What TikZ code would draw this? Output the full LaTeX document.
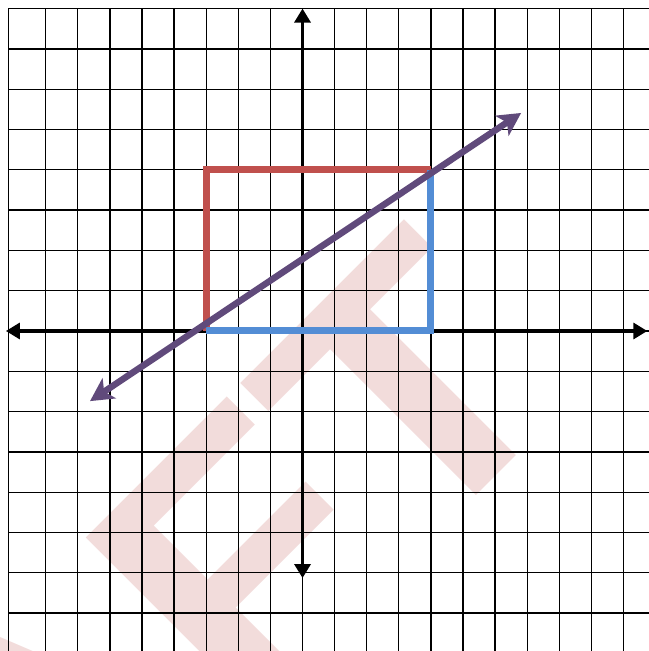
\documentclass[tikz,border=0pt]{standalone}
\usepackage{fontspec}
\newfontfamily\markfont{Liberation Sans}
\usetikzlibrary{arrows.meta}
\definecolor{markpink}{RGB}{242,220,219}
\definecolor{boxred}{RGB}{192,80,77}
\definecolor{boxblue}{RGB}{83,141,213}
\definecolor{linepurple}{RGB}{96,74,123}

\begin{document}
\begin{tikzpicture}[>={Triangle[length=14pt,width=16pt]},x=32.1pt,y=40.3pt,
  gridline/.style={line width=1.3pt,line cap=rect},
  axis/.style={line width=3.3pt},
  side/.style={line width=7pt}]
  \useasboundingbox (-9.424,-7.940) rectangle (10.763,8.213);
  \node[markpink,font=\markfont\bfseries\fontsize{357.5}{357.5}\selectfont,
    rotate=45,xscale=1.1,anchor=base east,inner sep=0pt] (mark) at (8.70,-1.47) {DRAFT};

  \foreach \x in {-8,...,10}
    \draw[gridline] (\x,8) -- (\x,-8.2);
  \draw[gridline] (-9.15,8) -- (-9.15,-8.2);
  \foreach \y in {-7,...,8}
    \draw[gridline] (-9.15,\y) -- (10.9,\y);

  \coordinate (xleft) at (-9.24,0);
  \coordinate (xright) at (10.74,0);
  \coordinate (ydown) at (0,-6.13);
  \coordinate (yup) at (0,8);
  \draw[axis,<->] (xleft) -- (xright);
  \draw[axis,<->] (ydown) -- (yup);

  \coordinate (corner) at (-3,0);
  \coordinate (topleft) at (-3,4);
  \coordinate (topright) at (4,4);
  \coordinate (baseright) at (4,0);
  \draw[side,boxred] (corner) -- (topleft) -- (topright);
  \draw[side,boxblue] (corner) -- (baseright) -- (topright);

  \coordinate (tail) at (-6.62,-1.74);
  \coordinate (head) at (6.81,5.41);
  \draw[line width=6.5pt,linepurple,
    {Stealth[length=23pt,width=24pt,inset=6pt]}-{Stealth[length=23pt,width=24pt,inset=6pt]}] (tail) -- (head);
\end{tikzpicture}
\end{document}
